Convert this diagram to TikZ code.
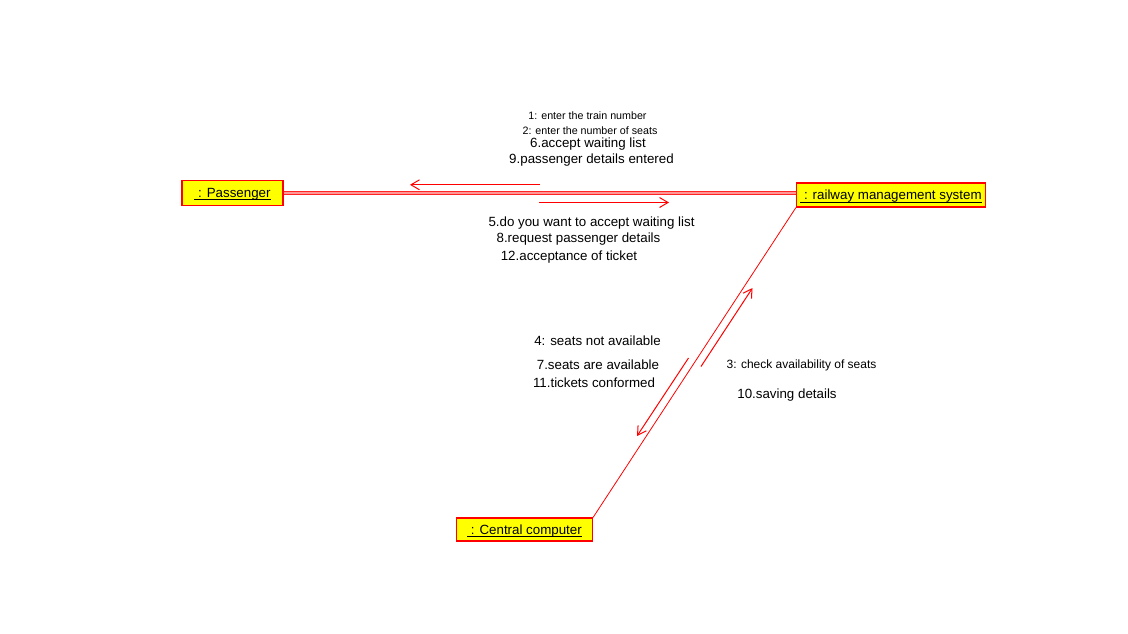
\documentclass[tikz,border=0pt]{standalone}
\usepackage{fontspec}
\setmainfont{Liberation Sans}
\usetikzlibrary{arrows.meta}
\definecolor{umlred}{RGB}{255,0,0}
\definecolor{umlyellow}{RGB}{255,255,0}
\definecolor{linkpink}{RGB}{255,150,150}
\newcommand\objul[1]{\begingroup\setbox0\hbox{#1}\rlap{\rule[-3pt]{\wd0}{0.9pt}}\box0\endgroup}
\begin{document}
\begin{tikzpicture}[x=1pt,y=-1pt,
  obj/.style={draw=umlred, line width=1.2pt, fill=umlyellow, inner sep=0pt,
    text height=10pt, text depth=1pt,
    font=\fontsize{13.33}{16}\selectfont},
  msg/.style={inner sep=0pt, font=\fontsize{13.33}{16}\selectfont},
  msgsmall/.style={inner sep=0pt, font=\fontsize{10.7}{13}\selectfont},
  msgmid/.style={inner sep=0pt, font=\fontsize{12}{14}\selectfont},
  link/.style={draw=umlred, line width=0.8pt},
  dlinkout/.style={draw=umlred!85, line width=4.6pt},
  dlinkin/.style={draw=linkpink, line width=2.6pt},
  msgarrow/.style={draw=umlred, line width=1pt, -{Straight Barb[length=8.5pt,width=10pt]}}]
\useasboundingbox (0,0) rectangle (1128,633);
\fill[white] (0,0) rectangle (1128,633);

% objects
\node[obj, minimum width=101pt, minimum height=25pt] (passenger) at (232.5,192.8) {\objul{\ : Passenger}};
\node[obj, minimum width=189pt, minimum height=24pt] (railway) at (891,195) {\objul{\ : railway management system}};
\node[obj, minimum width=136pt, minimum height=23pt] (central) at (524.5,529.5) {\objul{\ : Central computer}};

% links
\draw[dlinkout] (passenger.east) -- (passenger.east -| railway.west);
\draw[dlinkin] (passenger.east) -- (passenger.east -| railway.west);
\draw[link] (railway.south west) -- (central.north east);

% message arrows
\coordinate (a1s) at (540,184.8);
\coordinate (a1e) at (410,184.8);
\coordinate (a2s) at (539,202.5);
\coordinate (a2e) at (669,202.5);
\coordinate (a3s) at (701,366.5);
\coordinate (a3e) at (752.5,288);
\coordinate (a4s) at (688.5,358);
\coordinate (a4e) at (637,436);
\draw[msgarrow] (a1s) -- (a1e);
\draw[msgarrow] (a2s) -- (a2e);
\draw[msgarrow] (a3s) -- (a3e);
\draw[msgarrow] (a4s) -- (a4e);

% labels
\node[msgsmall] (m1) at (587.5,115.5) {1: enter the train number};
\node[msgsmall] (m2) at (590,130.5) {2: enter the number of seats};
\node[msg] (m6) at (588,144) {6.accept waiting list};
\node[msg] (m9) at (591.5,160) {9.passenger details entered};
\node[msg] (m5) at (591.5,223.5) {5.do you want to accept waiting list};
\node[msg] (m8) at (578.5,239) {8.request passenger details};
\node[msg] (m12) at (569,257.5) {12.acceptance of ticket};
\node[msg] (m4) at (597.5,340.5) {4: seats not available};
\node[msg] (m7) at (598,364.5) {7.seats are available};
\node[msg] (m11) at (594,382.5) {11.tickets conformed};
\node[msgmid] (m3) at (801.5,365) {3: check availability of seats};
\node[msg] (m10) at (787,395.5) {10.saving details};
\end{tikzpicture}
\end{document}
